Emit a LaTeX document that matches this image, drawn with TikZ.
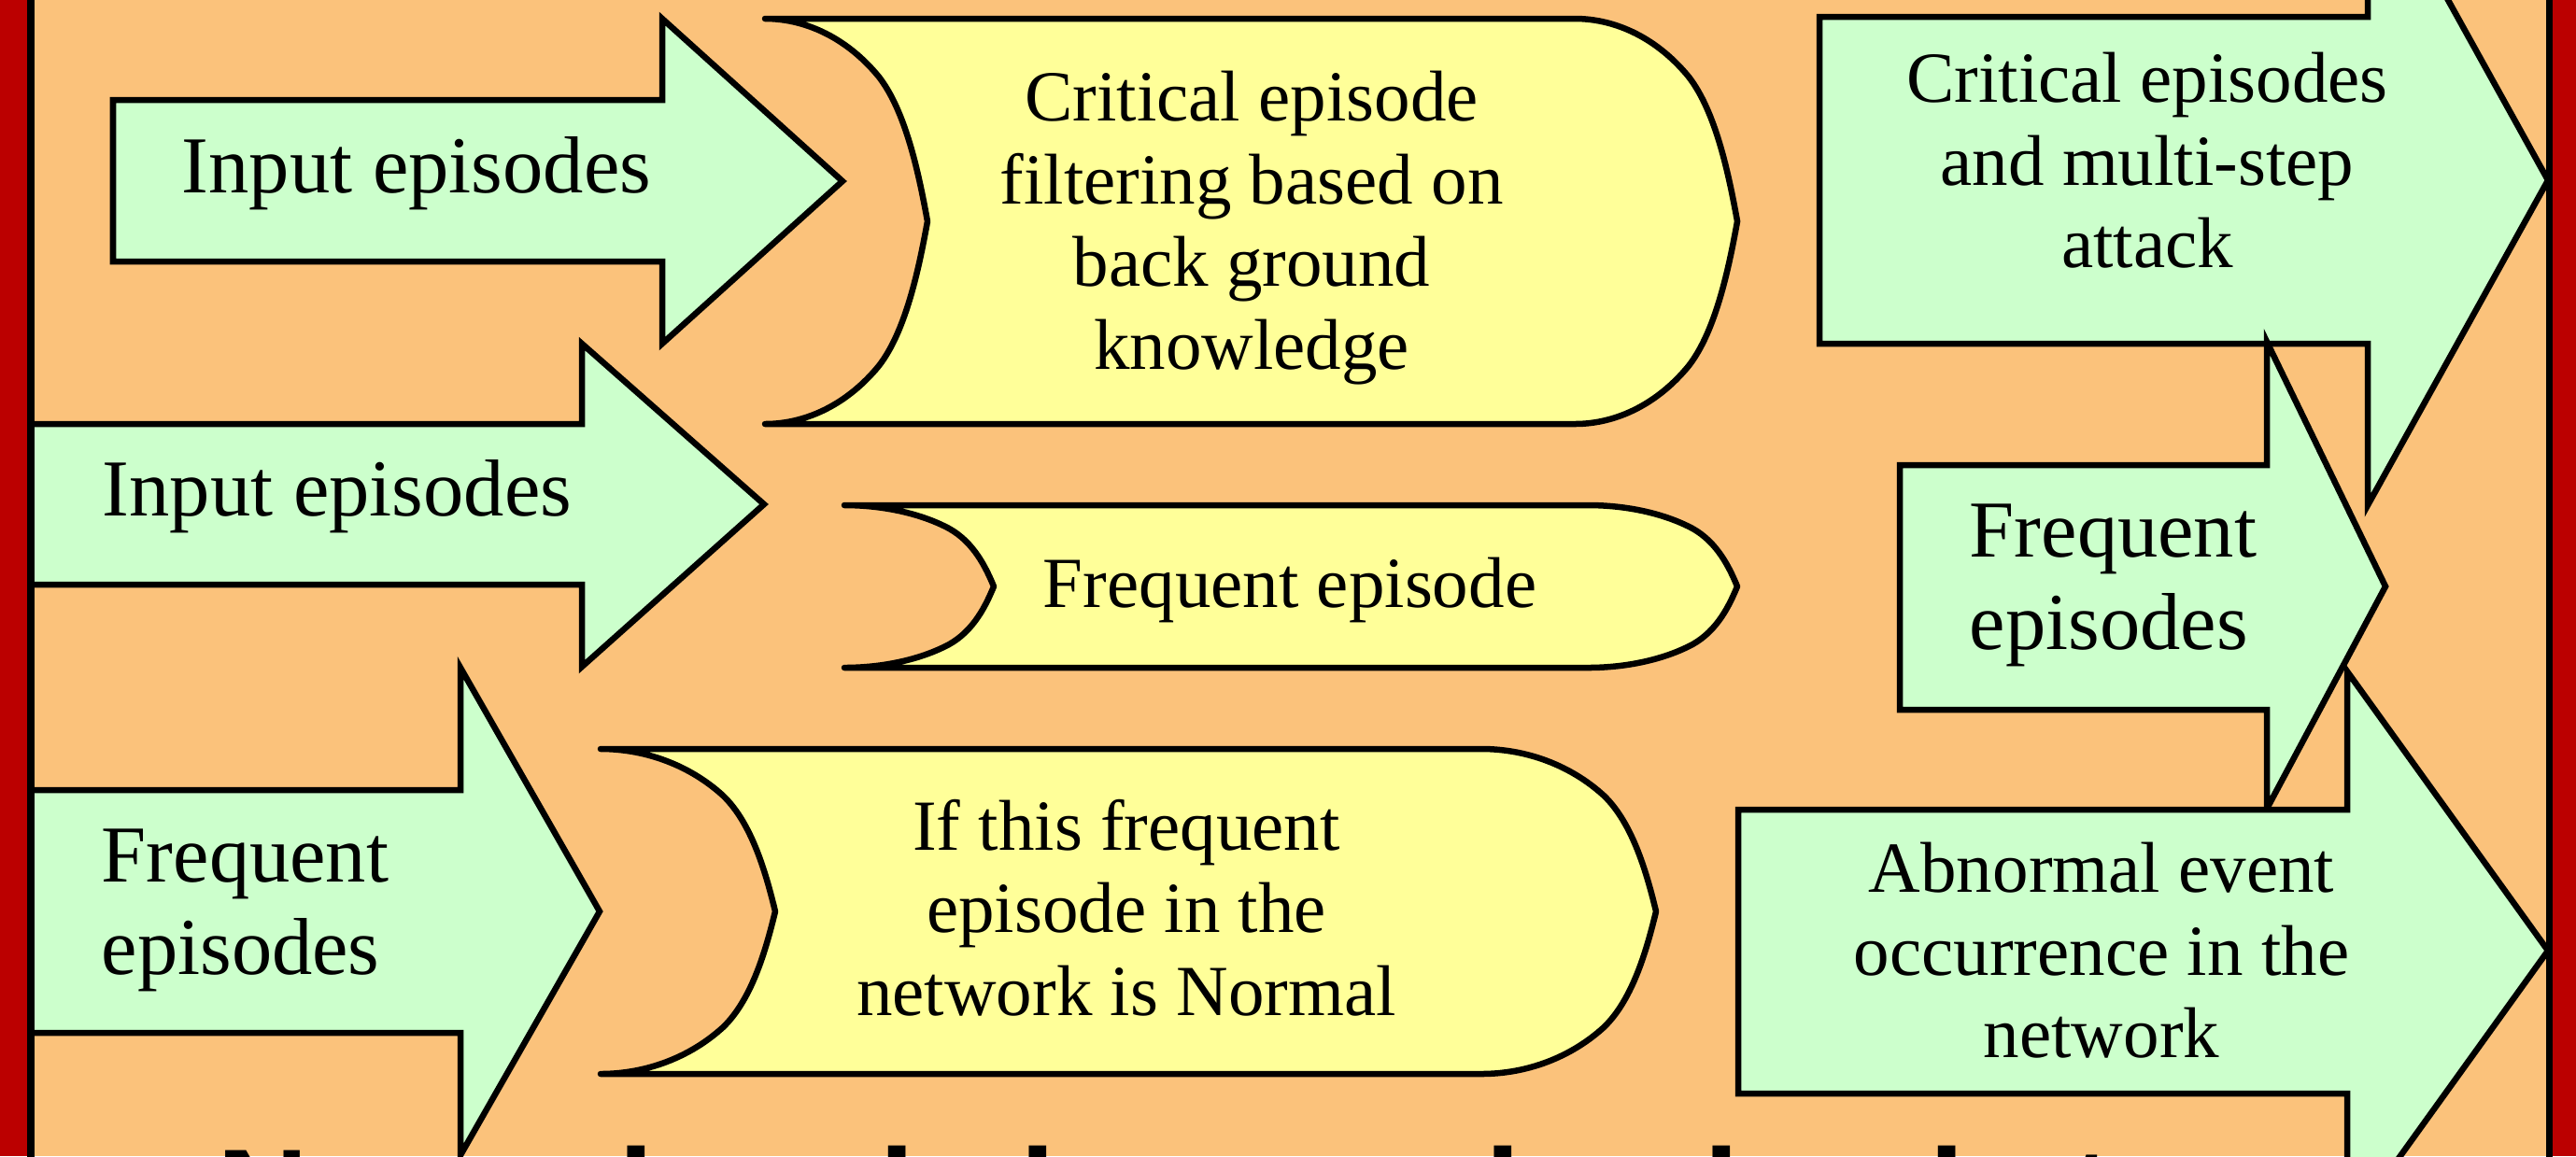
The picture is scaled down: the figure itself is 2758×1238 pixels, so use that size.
\documentclass[tikz,border=0pt]{standalone}
\usepackage{fontspec}
\setmainfont{Liberation Serif}
\newfontfamily\capsans{Liberation Sans}

\definecolor{bgorange}{RGB}{251,194,123}
\definecolor{framered}{RGB}{187,0,0}
\definecolor{arrowgreen}{RGB}{204,255,204}
\definecolor{boxyellow}{RGB}{255,255,153}

\tikzset{
  outline/.style={draw=black, line width=1.85pt, line join=miter},
  greenarrow/.style={outline, fill=arrowgreen},
  storedbox/.style={outline, fill=boxyellow, line join=round},
  bigtext/.style={font=\fontsize{24.6pt}{28pt}\selectfont, inner sep=0pt, align=center},
  smalltext/.style={font=\fontsize{21.9pt}{25.2pt}\selectfont, inner sep=0pt, align=center},
  captiontext/.style={font=\capsans\bfseries\fontsize{38.6pt}{42pt}\selectfont, inner sep=0pt},
}

% Stored-data box: concave left side, convex right side.
% #1 = point at the middle of the left side's chord, #2 = x radius, #3 = y radius,
% #4 = length of the flat top/bottom edge in units of the x radius.
\newcommand{\storedshape}[4]{%
  \begin{scope}[shift={#1}, xscale=#2, yscale=#3]
    \path[storedbox] (0,-1) -- (#4,-1)
      .. controls ({#4+0.262},-1) and ({#4+0.513},-0.897) .. ({#4+0.70},-0.714)
      .. controls ({#4+0.87},-0.54) and ({#4+0.95},-0.22) .. ({#4+1},0)
      .. controls ({#4+0.95},0.22) and ({#4+0.87},0.54) .. ({#4+0.70},0.714)
      .. controls ({#4+0.513},0.897) and ({#4+0.262},1) .. (#4,1)
      -- (0,1)
      .. controls (0.262,1) and (0.513,0.897) .. (0.70,0.714)
      .. controls (0.87,0.54) and (0.95,0.22) .. (1,0)
      .. controls (0.95,-0.22) and (0.87,-0.54) .. (0.70,-0.714)
      .. controls (0.513,-0.897) and (0.262,-1) .. (0,-1) -- cycle;
  \end{scope}}

\begin{document}
\begin{tikzpicture}[x=0.01cm, y=-0.01cm]
  \useasboundingbox (0,0) rectangle (2758,1238);
  \clip (0,0) rectangle (2758,1238);

  % background panel
  \fill[framered] (0,0) rectangle (2758,1238);
  \fill[bgorange] (33,0) rectangle (2730,1238);

  % left block arrows
  \path[greenarrow] (121,107) -- (709,107) -- (709,20) -- (902,194) -- (709,368) -- (709,280) -- (121,280) -- cycle;
  \path[greenarrow] (0,454) -- (623,454) -- (623,368) -- (818,540) -- (623,714) -- (623,626) -- (0,626) -- cycle;
  \path[greenarrow] (0,846) -- (493,846) -- (493,715) -- (642,976) -- (493,1237) -- (493,1106) -- (0,1106) -- cycle;

  % right block arrows
  \path[greenarrow] (1948,18) -- (2535,18) -- (2535,-155) -- (2728,193) -- (2535,541) -- (2535,368) -- (1948,368) -- cycle;
  \path[greenarrow] (2034,498) -- (2427,498) -- (2427,366) -- (2554,628) -- (2427,866) -- (2427,760) -- (2034,760) -- cycle;
  \path[greenarrow] (1861,867) -- (2513,867) -- (2513,719) -- (2728,1018) -- (2513,1317) -- (2513,1171) -- (1861,1171) -- cycle;

  % process boxes
  \storedshape{(819,237)}{174}{217}{4.983}
  \storedshape{(904,628)}{160}{87}{4.975}
  \storedshape{(643,976)}{187}{174}{5.043}

  % labels
  \node[bigtext] (inA) at (446,186) {Input episodes};
  \node[bigtext] (inB) at (361,532) {Input episodes};
  \node[bigtext, align=left, anchor=west] (freqL) at (108,975) {Frequent\\episodes};

  \node[smalltext] (filter) at (1340,244) {Critical episode\\filtering based on\\back ground\\knowledge};
  \node[smalltext] (freq) at (1381,632) {Frequent episode};
  \node[smalltext] (normal) at (1206,972) {If this frequent\\episode in the\\network is Normal};

  \node[smalltext] (crit) at (2299,172) {Critical episodes\\and multi-step\\attack};
  \node[bigtext, align=left, anchor=west] (freqR) at (2108,627) {Frequent\\episodes};
  \node[smalltext] (abn) at (2250,1018) {Abnormal event\\occurrence in the\\network};

  \node[captiontext, anchor=base west] (caption) at (232,1325) {Normal and abnormal episode types};

  % frame bands over everything
  \fill[framered] (0,0) rectangle (29,1238);
  \fill[framered] (2733,0) rectangle (2758,1238);
  \draw[line width=2.28pt] (33,-10) -- (33,1248);
  \draw[line width=2pt] (2729.5,-10) -- (2729.5,1248);
\end{tikzpicture}
\end{document}
